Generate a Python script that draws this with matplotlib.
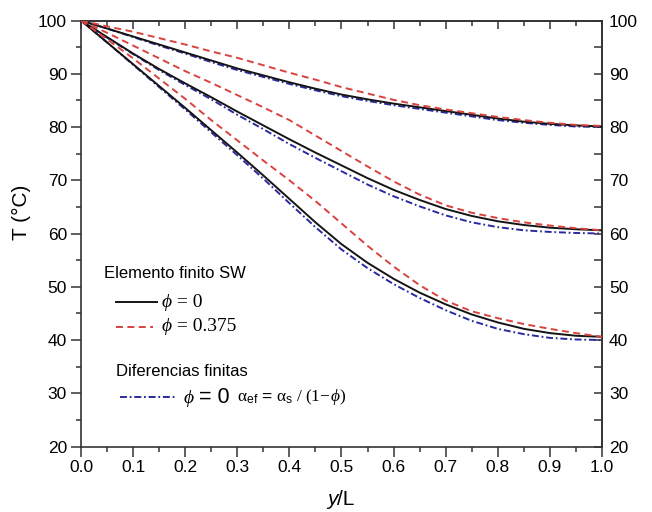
import numpy as np
import matplotlib
matplotlib.use('Agg')
import matplotlib.pyplot as plt
from matplotlib.lines import Line2D
from matplotlib.offsetbox import TextArea, HPacker, AnchoredOffsetbox
from matplotlib.ticker import MultipleLocator

plt.rcParams['font.family'] = ['Liberation Sans', 'DejaVu Sans']
plt.rcParams['mathtext.fontset'] = 'custom'
plt.rcParams['mathtext.rm'] = 'Liberation Serif'
plt.rcParams['mathtext.it'] = 'Liberation Serif:italic'
plt.rcParams['mathtext.sf'] = 'Liberation Sans'
plt.rcParams['lines.scale_dashes'] = False

# ---- data ----
x = [0.00, 0.05, 0.10, 0.15, 0.20, 0.25, 0.30, 0.35, 0.40, 0.45, 0.50,
     0.55, 0.60, 0.65, 0.70, 0.75, 0.80, 0.85, 0.90, 0.95, 1.00]

# Elemento finito SW, phi = 0 (solid black)
fe0_top = [100, 98.5, 97.0, 95.5, 94.0, 92.5, 91.0, 89.7, 88.4, 87.2, 86.1,
           85.2, 84.4, 83.7, 83.0, 82.3, 81.6, 81.0, 80.6, 80.3, 80.1]
fe0_mid = [100, 96.9, 93.8, 90.9, 88.2, 85.6, 82.9, 80.3, 77.7, 75.2, 72.8,
           70.4, 68.2, 66.3, 64.6, 63.3, 62.3, 61.6, 61.1, 60.8, 60.6]
fe0_bot = [100, 95.9, 91.8, 87.7, 83.6, 79.4, 75.2, 70.9, 66.5, 62.1, 58.0,
           54.5, 51.5, 48.9, 46.7, 44.8, 43.3, 42.1, 41.3, 40.8, 40.6]

# Elemento finito SW, phi = 0.375 (dashed red)
fe375_top = [100, 98.9, 97.9, 96.7, 95.5, 94.2, 93.0, 91.6, 90.2, 88.9, 87.5,
             86.3, 85.1, 84.1, 83.3, 82.6, 81.9, 81.3, 80.8, 80.4, 80.2]
fe375_mid = [100, 97.7, 95.3, 92.9, 90.5, 88.3, 86.0, 83.7, 81.3, 78.4, 75.5,
             72.6, 69.8, 67.3, 65.3, 63.9, 62.9, 62.1, 61.5, 61.0, 60.6]
fe375_bot = [100, 96.5, 92.9, 89.1, 85.3, 81.3, 77.5, 73.7, 70.0, 66.1, 61.9,
             57.7, 53.8, 50.3, 47.4, 45.4, 44.1, 43.0, 42.1, 41.3, 40.6]

# Diferencias finitas, phi = 0, alpha_ef (dash-dot blue)
fd_top = [100, 98.5, 96.9, 95.3, 93.8, 92.2, 90.7, 89.4, 88.1, 86.9, 85.8,
          84.9, 84.1, 83.4, 82.7, 82.0, 81.3, 80.8, 80.4, 80.1, 80.0]
fd_mid = [100, 96.8, 93.7, 90.7, 87.9, 85.2, 82.3, 79.6, 76.8, 74.2, 71.7,
          69.2, 67.0, 65.1, 63.4, 62.1, 61.2, 60.6, 60.3, 60.1, 60.0]
fd_bot = [100, 95.9, 91.7, 87.5, 83.3, 79.0, 74.7, 70.3, 65.7, 61.2, 57.0,
          53.5, 50.5, 47.9, 45.6, 43.6, 42.1, 41.1, 40.4, 40.1, 40.0]

xticks = [0.0, 0.1, 0.2, 0.3, 0.4, 0.5, 0.6, 0.7, 0.8, 0.9, 1.0]
yticks = [20, 30, 40, 50, 60, 70, 80, 90, 100]

c_black = '#141414'
c_red = '#d9423e'
c_blue = '#2a2aa0'
ls_red = (0, (5.0, 3.2))
ls_blue = (0, (5.0, 2.0, 1.3, 2.0))

fig = plt.figure(figsize=(6.52, 5.12), dpi=100)
ax = fig.add_axes([0.1242, 0.1279, 0.7991, 0.8320])

for yy in (fd_top, fd_mid, fd_bot):
    ax.plot(x, yy, color=c_blue, lw=1.4, linestyle=ls_blue, zorder=2)
for yy in (fe0_top, fe0_mid, fe0_bot):
    ax.plot(x, yy, color=c_black, lw=1.4, linestyle='-', zorder=3)
for yy in (fe375_top, fe375_mid, fe375_bot):
    ax.plot(x, yy, color=c_red, lw=1.4, linestyle=ls_red, zorder=4)

ax.set_xlim(0, 1)
ax.set_ylim(20, 100)
ax.set_xticks(xticks)
ax.set_xticklabels([f"{v:.1f}" for v in xticks])
ax.set_yticks(yticks)
ax.xaxis.set_minor_locator(MultipleLocator(0.05))
ax.yaxis.set_minor_locator(MultipleLocator(5))
ax.tick_params(which='major', direction='out', length=7, width=1.1,
               labelsize=12.5, pad=3, color='#333333')
ax.tick_params(which='minor', direction='out', length=3.5, width=1.1, color='#333333')
for s in ax.spines.values():
    s.set_linewidth(1.2)
    s.set_color('#333333')

top = ax.secondary_xaxis('top')
top.set_xticks(xticks)
top.xaxis.set_minor_locator(MultipleLocator(0.05))
top.tick_params(which='major', direction='in', length=6, width=1.1, labeltop=False, color='#333333')
top.tick_params(which='minor', direction='in', length=3.5, width=1.1, color='#333333')
top.spines['top'].set_linewidth(1.2)
top.spines['top'].set_color('#333333')

right = ax.secondary_yaxis('right')
right.set_yticks(yticks)
right.yaxis.set_minor_locator(MultipleLocator(5))
right.tick_params(which='major', direction='in', length=6, width=1.1,
                  labelsize=12.5, pad=5, color='#333333')
right.tick_params(which='minor', direction='in', length=6, width=1.1, color='#333333')
right.spines['right'].set_linewidth(1.2)
right.spines['right'].set_color('#333333')

# axis labels
ax.text(-0.115, 0.55, 'T (°C)', transform=ax.transAxes, rotation=90,
        ha='center', va='center', fontsize=15)

def row(parts, ax_x, ax_y, sep=0):
    children = [TextArea(t, textprops=p) for t, p in parts]
    box = HPacker(children=children, align='baseline', pad=0, sep=sep)
    ab = AnchoredOffsetbox(loc='center left', child=box, pad=0, borderpad=0,
                           frameon=False, bbox_to_anchor=(ax_x, ax_y),
                           bbox_transform=ax.transAxes)
    ax.add_artist(ab)

row([('y', dict(fontsize=15, style='italic')), ('/L', dict(fontsize=15))],
    0.472, -0.125)

# legend
serif = dict(fontsize=14, family='Liberation Serif')
serif_i = dict(fontsize=14, family='Liberation Serif', style='italic')

ax.text(0.044, 0.405, 'Elemento finito SW', transform=ax.transAxes,
        ha='left', va='center', fontsize=12)
ax.add_line(Line2D([0.067, 0.146], [0.339, 0.339], transform=ax.transAxes,
                   color=c_black, lw=1.4))
row([('ϕ', serif_i), (' = 0', serif)], 0.155, 0.339)
ax.add_line(Line2D([0.067, 0.139], [0.281, 0.281], transform=ax.transAxes,
                   color=c_red, lw=1.4, linestyle=ls_red))
row([('ϕ', serif_i), (' = 0.375', serif)], 0.155, 0.281)

ax.text(0.067, 0.175, 'Diferencias finitas', transform=ax.transAxes,
        ha='left', va='center', fontsize=12)
ax.add_line(Line2D([0.075, 0.184], [0.116, 0.116], transform=ax.transAxes,
                   color=c_blue, lw=1.4, linestyle=ls_blue))
row([('ϕ', serif_i), (' = 0', dict(fontsize=15.5, family='Liberation Sans'))], 0.196, 0.116)
row([(r'$\mathrm{α}_{\mathsf{ef}}\,\mathsf{=}\,\mathrm{α}_{\mathsf{s}}\ \mathrm{/}\ \mathrm{(1}\!-\!\mathit{ϕ}\mathrm{)}$',
      dict(fontsize=12.5))], 0.30, 0.116)

fig.savefig('out.png', dpi=100)
